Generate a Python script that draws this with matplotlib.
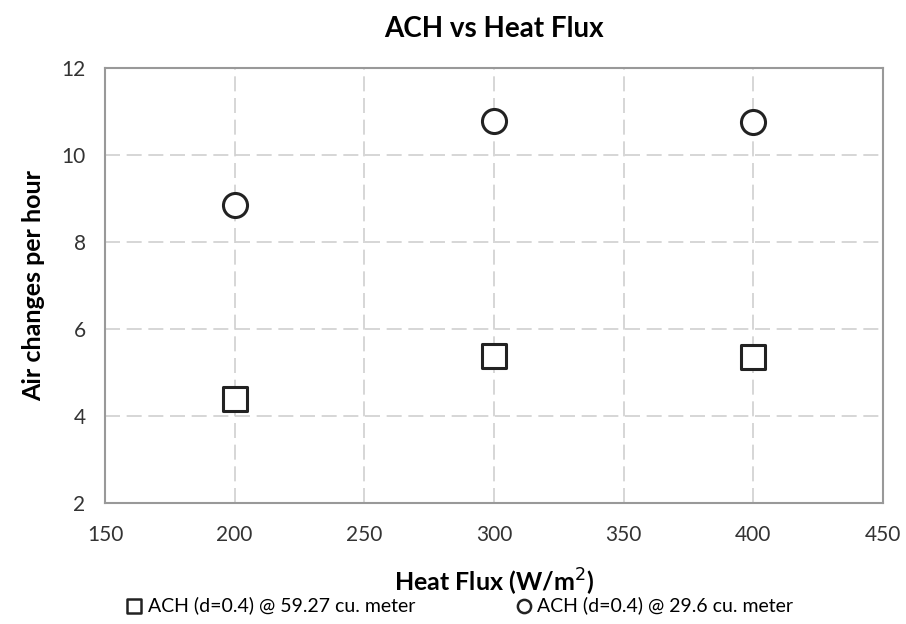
import matplotlib
matplotlib.use('Agg')
import matplotlib.pyplot as plt

plt.rcParams['font.family'] = ['Lato', 'DejaVu Sans']

heat_flux = [200, 300, 400]
ach_large = [4.39, 5.38, 5.36]
ach_small = [8.85, 10.78, 10.76]

fig = plt.figure(figsize=(9.06, 6.24), dpi=100)
ax = fig.add_axes([0.1159, 0.194, 0.8587, 0.697])

ax.scatter(heat_flux, ach_large, marker='s', s=320, facecolors='white',
           edgecolors='#222222', linewidths=2.2, zorder=3,
           label='ACH (d=0.4) @ 59.27 cu. meter')
ax.scatter(heat_flux, ach_small, marker='o', s=300, facecolors='white',
           edgecolors='#222222', linewidths=2.2, zorder=3,
           label='ACH (d=0.4) @ 29.6 cu. meter')

ax.set_xlim(150, 450)
ax.set_ylim(2, 12)
ax.set_xticks(range(150, 451, 50))
ax.set_yticks(range(2, 13, 2))
ax.grid(True, color='#d0d0d0', linestyle=(0, (9, 4)), linewidth=1.2)
ax.set_axisbelow(True)
for s in ax.spines.values():
    s.set_color('#999999')
    s.set_linewidth(1.5)
ax.tick_params(length=0, labelsize=15, colors='#333333')
ax.tick_params(axis='x', pad=16)
ax.tick_params(axis='y', pad=14)

ax.set_title('ACH vs Heat Flux', fontsize=20, fontweight='bold', pad=22)
ax.set_xlabel('Heat Flux (W/m$^2$)', fontsize=18, fontweight='bold', labelpad=16)
ax.set_ylabel('Air changes per hour', fontsize=18, fontweight='bold', labelpad=12)

leg = ax.legend(loc='upper center', bbox_to_anchor=(0.456, -0.175), ncol=2,
                frameon=False, fontsize=14, handlelength=0.8, handletextpad=0.3,
                columnspacing=5.2, markerscale=0.55)
for h in leg.legend_handles:
    h.set_linewidth(1.8)

fig.savefig('out.png', dpi=100)
